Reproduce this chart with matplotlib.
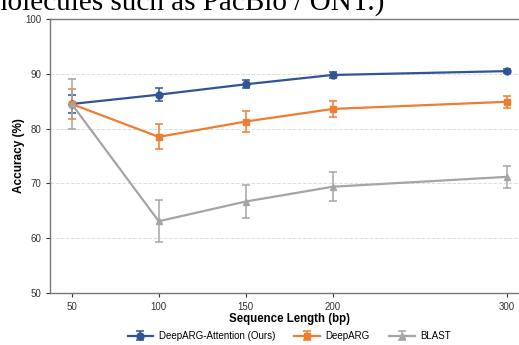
import matplotlib.pyplot as plt
import numpy as np

lengths = [50, 100, 150, 200, 300]

attn_mean = [84.5, 86.2, 88.1, 89.8, 90.5]
attn_err = [1.7, 1.2, 0.7, 0.5, 0.3]

deeparg_mean = [84.5, 78.5, 81.3, 83.6, 84.9]
deeparg_err = [2.8, 2.3, 1.9, 1.4, 1.1]

blast_mean = [84.5, 63.1, 66.7, 69.4, 71.2]
blast_err = [4.5, 3.8, 3.1, 2.6, 2.0]

labels = ["DeepARG-Attention (Ours)", "DeepARG", "BLAST"]
colors = ["#2F5597", "#ED7D31", "#A5A5A5"]
markers = ["o", "s", "^"]

plt.rcParams['font.family'] = ['Liberation Sans', 'DejaVu Sans']

fig = plt.figure(figsize=(5.19, 3.45), dpi=100)
ax = fig.add_axes([0.0963, 0.1507, 0.922, 0.794])

series = [(attn_mean, attn_err), (deeparg_mean, deeparg_err), (blast_mean, blast_err)]
for (m, e), lab, c, mk in zip(series, labels, colors, markers):
    ax.errorbar(lengths, m, yerr=e, label=lab, color=c, marker=mk,
                markersize=5, linewidth=1.6, capsize=3, elinewidth=1.1,
                capthick=1.1)

ax.set_xlim(37.5, 312.5)
ax.set_ylim(50, 100)
ax.set_xticks(lengths)
ax.set_yticks([50, 60, 70, 80, 90, 100])
ax.tick_params(labelsize=7, colors="#333333", length=3, width=0.8)
ax.grid(axis="y", linestyle="--", color="#dddddd", linewidth=0.7)
ax.set_axisbelow(True)
for s in ax.spines.values():
    s.set_color("#777777")
    s.set_linewidth(1.0)

ax.set_xlabel("Sequence Length (bp)", fontsize=8.3, fontweight="bold", labelpad=1)
ax.set_ylabel("Accuracy (%)", fontsize=8.5, fontweight="bold", labelpad=0)

ax.legend(loc="center", bbox_to_anchor=(0.5, -0.157), ncol=3,
          frameon=False, fontsize=7, handlelength=2.6, handletextpad=0.6,
          columnspacing=2.0)

# clipped caption text from the page above the figure
fig.text(384 / 519, 1 - 10 / 345, "molecules such as PacBio / ONT.)",
         ha="right", va="baseline", fontsize=21,
         family="Liberation Serif", color="black")

fig.savefig("out.png", dpi=100)
